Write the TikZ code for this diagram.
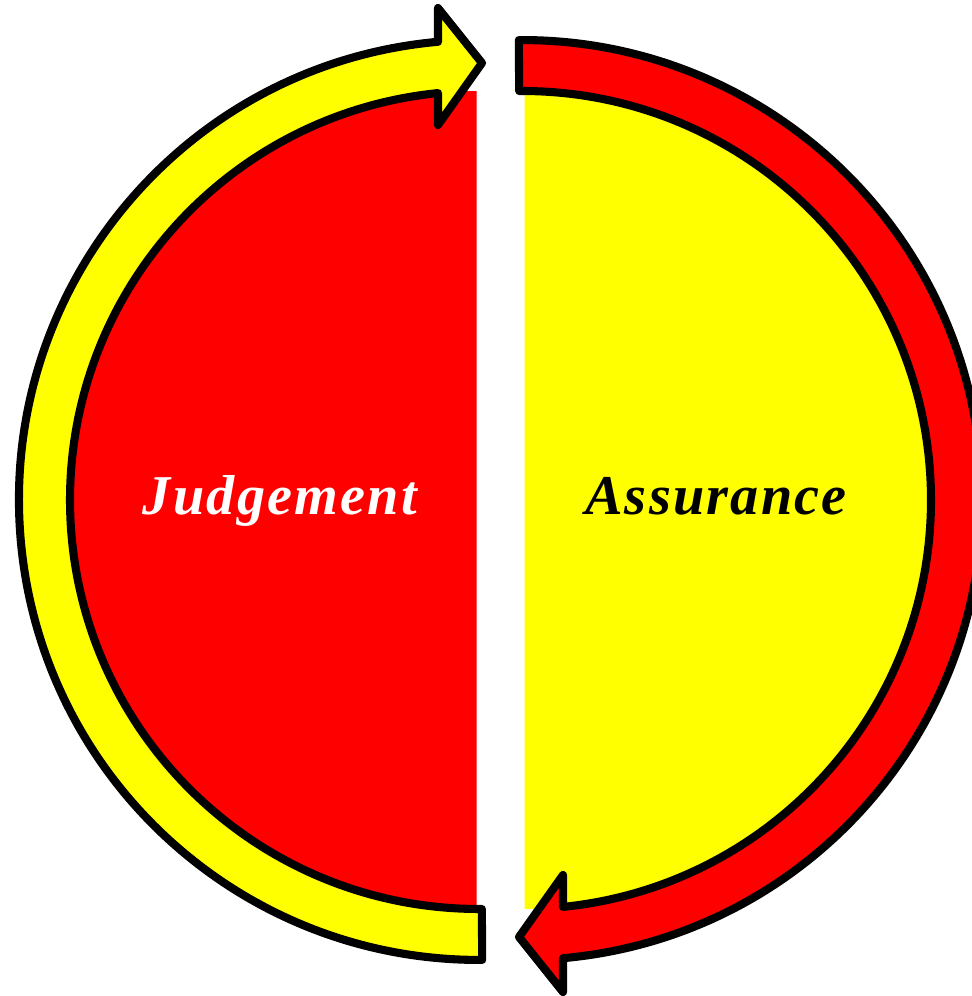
\documentclass[tikz,border=0pt]{standalone}
\usepackage{fontspec}
\setmainfont{Liberation Serif}
\newfontfamily\cyclefont[LetterSpace=4]{Liberation Serif}
\usepackage{tikz}
\definecolor{cycleYellow}{RGB}{255,255,0}
\definecolor{cycleRed}{RGB}{255,0,0}

\begin{document}
\begin{tikzpicture}[
    x=0.02cm, y=0.02cm,
    % outlined curved arrow round each half
    band/.style={draw=black, line width=4.6pt, line join=round},
    cyclelbl/.style={
        font=\cyclefont\fontsize{32}{36}\selectfont\bfseries\itshape,
        anchor=base, inner sep=0pt
    },
]
\useasboundingbox (0,0) rectangle (971,996);

%% =================================================================
%% Left half: Judgement (red disc, yellow arrow)
%% =================================================================
\coordinate (jc) at (479,496);
\fill[cycleRed] (jc) ++(90.35:409) arc[start angle=90.35, end angle=269.65, radius=409] -- cycle;
\filldraw[band, fill=cycleYellow] (jc) ++(-89.6:409)
    arc[start angle=-89.6, end angle=-264.25, radius=409]
    -- (438,871) -- (482,933) -- (438,988) -- (438,954.2)
    arc[start angle=-264.89, end angle=-89.6, radius=460] -- cycle;

%% =================================================================
%% Right half: Assurance (same shape turned half a round)
%% =================================================================
\begin{scope}[rotate around={180:(500.5,496)}]
\coordinate (ac) at (479,496);
\fill[cycleYellow] (ac) ++(90.35:409) arc[start angle=90.35, end angle=269.65, radius=409] -- cycle;
\filldraw[band, fill=cycleRed] (ac) ++(-89.6:409)
    arc[start angle=-89.6, end angle=-264.25, radius=409]
    -- (438,871) -- (482,933) -- (438,988) -- (438,954.2)
    arc[start angle=-264.89, end angle=-89.6, radius=460] -- cycle;
\end{scope}

%% labels
\node[cyclelbl, text=white] (judge) at (280,481) {Judgement};
\node[cyclelbl, text=black] (assure) at (716,481) {Assurance};

\end{tikzpicture}
\end{document}
